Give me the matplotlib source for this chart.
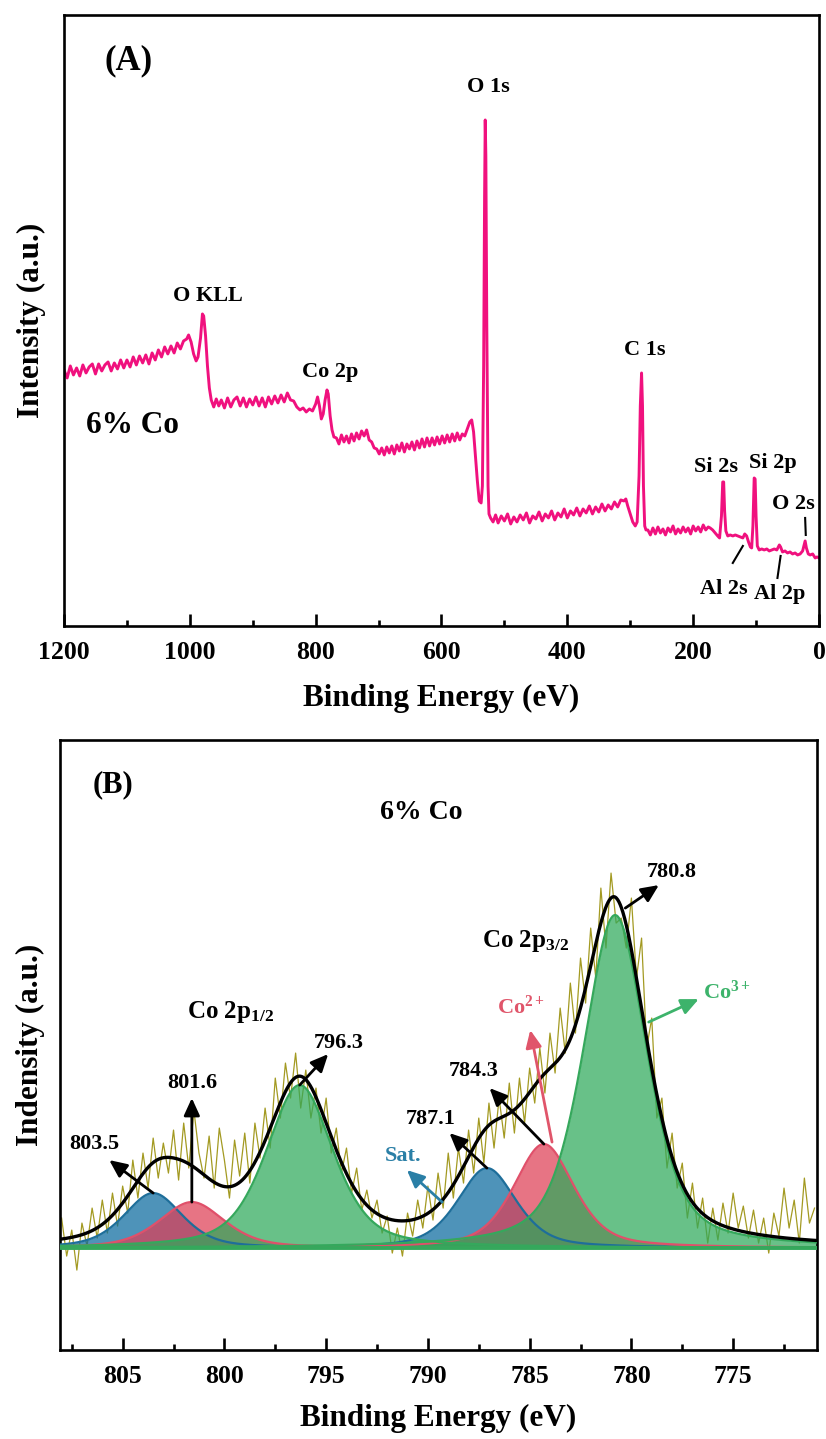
import numpy as np
import matplotlib
matplotlib.use('Agg')
import matplotlib.pyplot as plt

plt.rcParams['font.family'] = ['Liberation Serif', 'DejaVu Serif']
plt.rcParams['font.weight'] = 'bold'
plt.rcParams['axes.labelweight'] = 'bold'
plt.rcParams['mathtext.fontset'] = 'custom'
plt.rcParams['mathtext.rm'] = 'Liberation Serif:bold'
plt.rcParams['mathtext.it'] = 'Liberation Serif:bold'
plt.rcParams['mathtext.bf'] = 'Liberation Serif:bold'

# ---- survey spectrum (binding energy in eV, intensity in a.u.) ----
survey_be = [1200, 1195, 1190, 1185, 1180, 1175, 1170, 1165, 1160, 1155, 1150, 1145, 1140, 1135,
             1130, 1125, 1120, 1115, 1110, 1105, 1100, 1095, 1090, 1085, 1080, 1075, 1070, 1065,
             1060, 1055, 1050, 1045, 1040, 1035, 1030, 1025, 1020, 1015, 1010, 1005, 1002, 998,
             994, 990, 987, 983, 980, 978, 975, 972, 969, 966, 962, 958, 954, 950, 945, 940, 935,
             930, 925, 920, 915, 910, 905, 900, 895, 890, 885, 880, 875, 870, 865, 860, 855, 850,
             845, 840, 835, 830, 825, 820, 815, 810, 805, 800, 797, 794, 791, 788, 785, 782, 780,
             777, 774, 771, 767, 763, 759, 755, 751, 747, 743, 739, 735, 731, 727, 723, 719, 715,
             711, 707, 703, 699, 695, 691, 687, 683, 679, 675, 671, 667, 663, 659, 655, 651, 647,
             643, 639, 635, 631, 627, 623, 619, 615, 611, 607, 603, 599, 595, 591, 587, 583, 579,
             575, 571, 567, 563, 559, 555, 552, 549, 546, 543, 540, 537, 535, 533, 531.5, 530.5,
             529.5, 528, 526, 524.5, 522, 518, 514, 510, 505, 500, 495, 490, 485, 480, 475, 470,
             465, 460, 455, 450, 445, 440, 435, 430, 425, 420, 415, 410, 405, 400, 395, 390, 385,
             380, 375, 370, 365, 360, 355, 350, 345, 340, 335, 330, 325, 320, 315, 310, 307, 304,
             300, 296, 292, 289, 286, 284, 282, 280.5, 279, 277, 275, 272, 268, 264, 260, 256, 252,
             248, 244, 240, 236, 232, 228, 224, 220, 216, 212, 208, 204, 200, 196, 192, 188, 184,
             180, 176, 173, 169, 165, 161, 158, 155, 153, 151.5, 150, 148, 145, 141, 137, 133, 129,
             125, 121, 118, 115, 112, 109, 107, 105, 103, 101.5, 100, 98, 95, 91, 87, 83, 79, 75,
             71, 67, 63, 61, 58, 54, 50, 46, 42, 38, 34, 30, 26, 24, 22, 20, 17, 14, 10, 6, 3, 0]
survey_int = [256, 248, 260, 251, 258, 250, 261, 253, 259, 262, 252, 262, 255, 261,
              264, 255, 263, 257, 266, 258, 266, 259, 269, 261, 270, 263, 271, 262,
              273, 266, 276, 269, 279, 272, 280, 273, 283, 277, 285, 287, 291, 284,
              272, 265, 269, 288, 312, 310, 290, 260, 238, 226, 219, 227, 220, 226, 218, 228, 219,
              226, 229, 220, 228, 219, 227, 221, 229, 220, 228, 219, 229, 222, 230, 223, 231, 224,
              233, 226, 225, 219, 216, 218, 214, 217, 215, 222, 229, 220, 207, 212, 226, 236, 232,
              210, 196, 189, 188, 182, 191, 184, 190, 183, 192, 185, 193, 187, 195, 190, 196, 186,
              184, 178, 177, 172, 178, 171, 179, 173, 180, 172, 181, 175, 183, 174, 182, 177, 184,
              176, 185, 178, 187, 179, 188, 180, 188, 181, 189, 182, 190, 183, 191, 184, 192, 185,
              193, 186, 192, 190, 197, 204, 206, 194, 170, 145, 125, 123, 140, 260, 430, 506,
              470, 300, 140, 112, 108, 104, 111, 103, 110, 105, 112, 102, 109, 104, 111, 106,
              113, 103, 110, 107, 114, 105, 112, 108, 115, 106, 113, 109, 117, 108, 115, 111, 118,
              110, 117, 113, 120, 112, 119, 114, 122, 115, 121, 117, 124, 119, 126, 125, 127, 120,
              112, 104, 100, 104, 150, 220, 253, 220, 140, 100, 96, 96, 91, 98, 92, 99, 93,
              97, 91, 98, 94, 100, 92, 97, 93, 99, 94, 98, 92, 100, 95, 99, 94, 101,
              96, 99, 98, 96, 93, 90, 88, 110, 144, 144, 115, 95, 90, 91, 90, 91, 90,
              89, 88, 92, 90, 84, 79, 78, 100, 148, 147, 110, 80, 76, 77, 76, 77, 75, 76,
              77, 76, 81, 79, 74, 75, 73, 74, 72, 73, 71, 72, 75, 80, 85, 78, 72, 71, 72, 68, 69, 68]

survey_labels = ['O KLL', 'Co 2p', 'O 1s', 'C 1s', 'Si 2s', 'Si 2p', 'O 2s', 'Al 2s', 'Al 2p']
survey_label_be = [971, 777, 525, 277, 164, 74, 41, 152, 63]
survey_label_int = [330, 254, 539, 276, 159, 163, 122, 37, 32]

# ---- Co 2p high resolution spectrum ----
raw_be = np.arange(808.0, 770.99, -0.25)
raw_int = [30, -8, 18, -22, 25, 2, 40, 10, 48, 15, 55, 22, 62, 35, 88, 50, 95, 60, 110, 70,
           105, 75, 118, 68, 125, 80, 138, 95, 70, 112, 60, 120, 88, 50, 108, 72, 115, 65, 125, 90,
           140, 100, 170, 130, 185, 150, 195, 140, 178, 130, 160, 115, 150, 95, 120, 75, 100, 55, 80, 38,
           58, 30, 48, 15, 32, -5, 20, -8, 35, 12, 48, 20, 62, 28, 75, 40, 95, 50, 100, 65,
           118, 75, 130, 85, 145, 100, 150, 110, 165, 115, 170, 125, 180, 145, 200, 155, 215, 175, 240, 195,
           265, 215, 290, 245, 320, 270, 360, 300, 375, 325, 330, 300, 350, 270, 310, 200, 230, 130, 150, 80,
           115, 60, 85, 30, 65, 20, 50, 5, 40, 8, 45, 15, 55, 20, 42, 10, 38, 5, 30, -5,
           35, 12, 60, 20, 48, 5, 70, 25, 40]

fit_centers = [803.5, 801.6, 796.3, 787.1, 784.3, 780.8]
fit_heights = [55, 46, 163, 80, 104, 333]
fit_fwhm = [3.4, 3.8, 3.9, 3.4, 3.5, 3.7]
fit_species = ['Sat.', 'Co$^{2+}$', 'Co$^{3+}$', 'Sat.', 'Co$^{2+}$', 'Co$^{3+}$']

species_fill = {'Sat.': '#0A6A9E', 'Co$^{2+}$': '#DF3E55', 'Co$^{3+}$': '#2EA95A'}
species_edge = {'Sat.': '#1E6E9A', 'Co$^{2+}$': '#E0506A', 'Co$^{3+}$': '#35A85C'}
species_text = {'Sat.': '#2A7FA6', 'Co$^{2+}$': '#E0556A', 'Co$^{3+}$': '#3DB36B'}


def gl_peak(x, center, height, fwhm, eta=0.5):
    # mixed Gaussian-Lorentzian line shape
    r = (x - center) / fwhm
    return height * ((1 - eta) * np.exp(-4 * np.log(2) * r ** 2) + eta / (1 + 4 * r ** 2))


fig = plt.figure(figsize=(8.26, 14.39), dpi=100)
axA = fig.add_axes([0.0775, 0.565, 0.914, 0.4246])
axB = fig.add_axes([0.0726, 0.0618, 0.916, 0.4239])


def style_axis(ax):
    for sp in ax.spines.values():
        sp.set_linewidth(1.9)
    ax.tick_params(axis='x', which='both', direction='in', top=False, width=1.9,
                   labelsize=18.5, pad=11)
    ax.tick_params(axis='x', which='major', length=8.5)
    ax.tick_params(axis='x', which='minor', length=4.5)
    ax.tick_params(axis='y', which='both', left=False, right=False, labelleft=False)
    for lab in ax.get_xticklabels():
        lab.set_fontweight('bold')


# (A) survey
axA.plot(survey_be, survey_int, color='#F0117E', lw=2.1)
axA.set_xlim(1200, 0)
axA.set_ylim(0, 611)
axA.set_xticks([1200, 1000, 800, 600, 400, 200, 0])
axA.set_xticks(np.arange(1100, 0, -200), minor=True)
style_axis(axA)
axA.set_xlabel('Binding Energy (eV)', fontsize=22.5, labelpad=14)
axA.set_ylabel('Intensity (a.u.)', fontsize=22.5, labelpad=13)
axA.text(0.085, 0.925, '(A)', transform=axA.transAxes, fontsize=25, ha='center', va='center')
axA.text(1091, 200, '6% Co', fontsize=22.5, ha='center', va='center')
for lab, e, y in zip(survey_labels, survey_label_be, survey_label_int):
    axA.text(e, y, lab, fontsize=16, ha='center', va='center')
# leader lines for the small peaks
axA.plot([121, 137], [80, 63], color='black', lw=1.5)
axA.plot([61, 66], [70, 48], color='black', lw=1.5)
axA.plot([22, 21], [108, 91], color='black', lw=1.5)

# (B) Co 2p fit
xfit = np.linspace(808.5, 770.5, 1200)
comps = [gl_peak(xfit, c, h, w) for c, h, w in zip(fit_centers, fit_heights, fit_fwhm)]
envelope = np.sum(comps, axis=0)

axB.plot(raw_be, raw_int, color='#A39A22', lw=0.9, zorder=1)
for sp in ['Sat.', 'Co$^{2+}$', 'Co$^{3+}$']:
    for comp, s in zip(comps, fit_species):
        if s != sp:
            continue
        axB.fill_between(xfit, 0, comp, color=species_fill[sp], alpha=0.72, lw=0, zorder=2)
        axB.plot(xfit, comp, color=species_edge[sp], lw=1.6, zorder=3)
axB.axhline(0, color='#35A85C', lw=2.8, zorder=4)
axB.plot(xfit, envelope, color='black', lw=2.4, zorder=5)

axB.set_xlim(808.08, 770.9)
axB.set_ylim(-102, 508)
axB.set_xticks([805, 800, 795, 790, 785, 780, 775])
axB.set_xticks(np.arange(807.5, 771, -5), minor=True)
style_axis(axB)
axB.set_xlabel('Binding Energy (eV)', fontsize=22.5, labelpad=11)
axB.set_ylabel('Indensity (a.u.)', fontsize=22.5, labelpad=11)
axB.text(0.070, 0.926, '(B)', transform=axB.transAxes, fontsize=22, ha='center', va='center')
axB.text(0.477, 0.882, '6% Co', transform=axB.transAxes, fontsize=20, ha='center', va='center')
axB.text(799.7, 236, 'Co 2p$_{1/2}$', fontsize=18, ha='center', va='center')
axB.text(785.2, 307, 'Co 2p$_{3/2}$', fontsize=18, ha='center', va='center')


def arrow(tail, head, color='black'):
    axB.annotate('', xy=head, xytext=tail, zorder=6,
                 arrowprops=dict(arrowstyle='-|>,head_length=0.7,head_width=0.32',
                                 color=color, lw=2, mutation_scale=15,
                                 shrinkA=0, shrinkB=0))


# peak position labels with arrows from the peak tops
pos_text = {803.5: (806.4, 104), 801.6: (801.6, 165), 796.3: (794.4, 205),
            787.1: (789.85, 129), 784.3: (787.75, 177), 780.8: (778.0, 376)}
pos_head = {803.5: (805.66, 88), 801.6: (801.6, 150), 796.3: (794.9, 194),
            787.1: (788.94, 115), 784.3: (786.97, 160), 780.8: (778.65, 363)}
for c, h in zip(fit_centers, fit_heights):
    tail = (c, h)
    if c == 780.8:
        tail = (780.3, 340)
    arrow(tail, pos_head[c])
    tx, ty = pos_text[c]
    axB.text(tx, ty, f'{c:.1f}', fontsize=16, ha='center', va='center')

# species labels
arrow((789.3, 46), (791.03, 78), species_text['Sat.'])
axB.text(791.2, 92, 'Sat.', fontsize=16, ha='center', va='center', color=species_text['Sat.'])
arrow((783.9, 106), (784.97, 218), species_text['Co$^{2+}$'])
axB.text(785.45, 241, 'Co$^{2+}$', fontsize=16, ha='center', va='center',
         color=species_text['Co$^{2+}$'])
arrow((779.15, 226), (776.69, 249), species_text['Co$^{3+}$'])
axB.text(775.3, 256, 'Co$^{3+}$', fontsize=16, ha='center', va='center',
         color=species_text['Co$^{3+}$'])

fig.savefig('out.png', dpi=100)
